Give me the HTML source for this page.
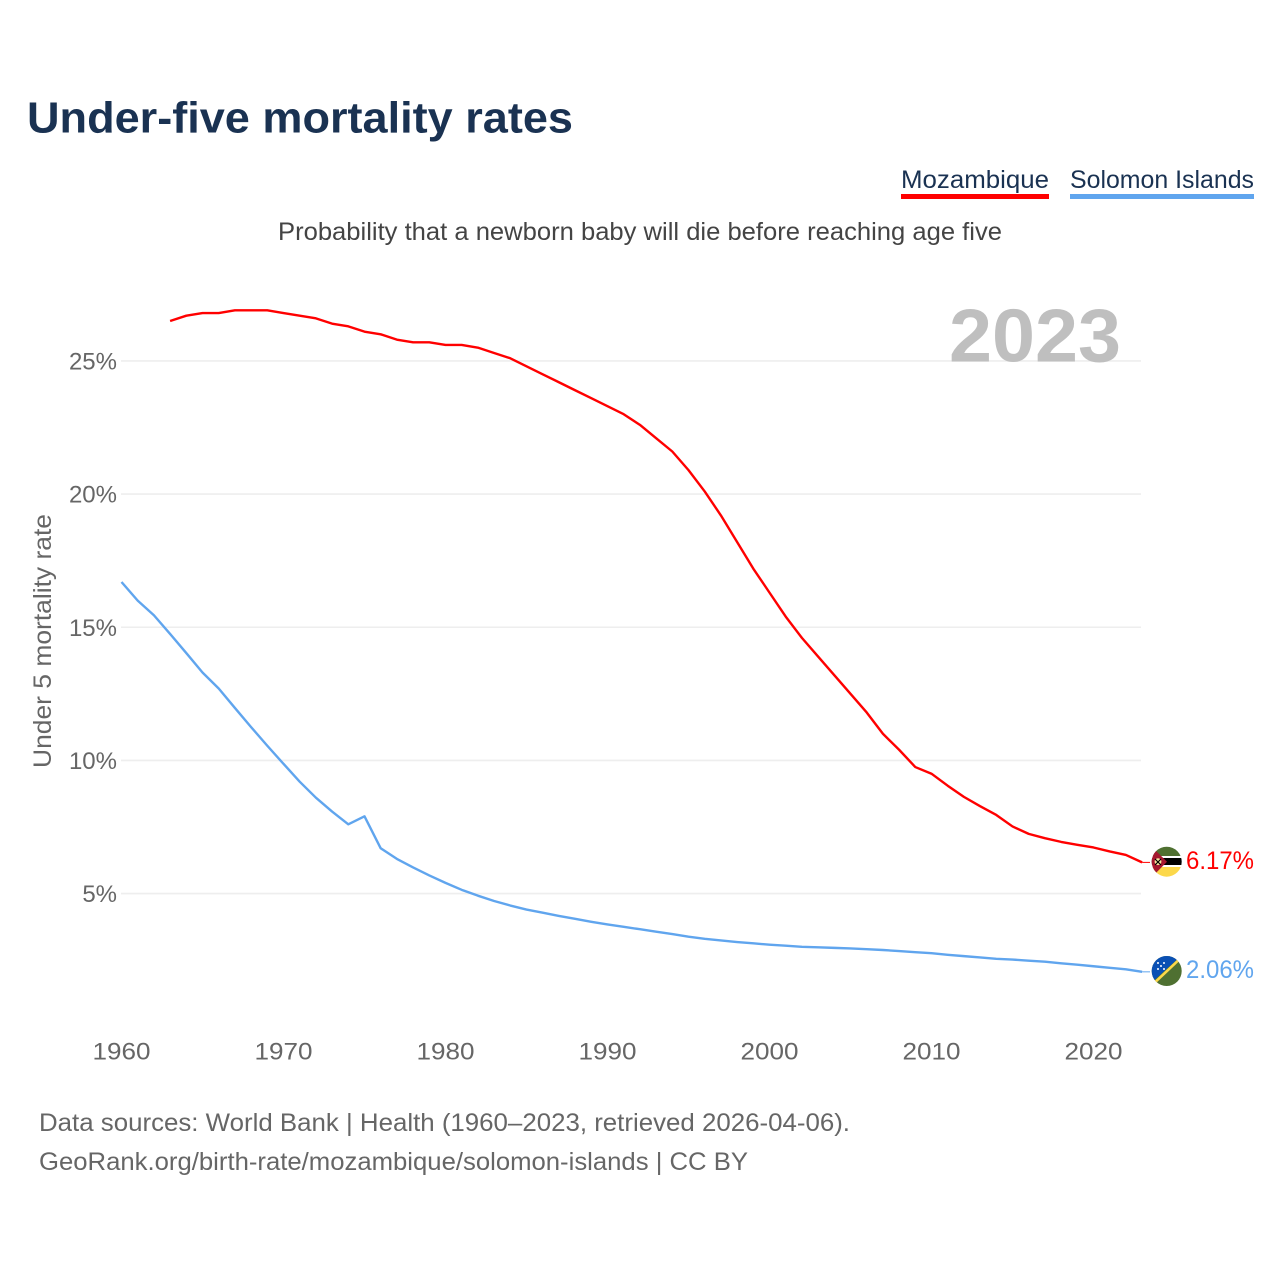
<!DOCTYPE html>
<html lang="en">
<head>
<meta charset="utf-8">
<title>Under-five mortality rates</title>
<style>
html,body{margin:0;padding:0;background:#fff}
svg{display:block}
text{font-family:"Liberation Sans",sans-serif}
</style>
</head>
<body>
<svg id="chart" xmlns="http://www.w3.org/2000/svg" width="1280" height="1280" viewBox="0 0 1280 1280">
  <defs>
    <clipPath id="clip-moz"><circle cx="1166.7" cy="861.7" r="15"/></clipPath>
    <clipPath id="clip-sol"><circle cx="1166.7" cy="971" r="15"/></clipPath>
  </defs>
  <rect width="1280" height="1280" fill="#fff"/>
  <text x="27" y="132.5" font-size="44" font-weight="700" fill="#1a3252" textLength="546" lengthAdjust="spacingAndGlyphs">Under-five mortality rates</text>

  <g>
    <g>
      <text x="901" y="188" font-size="25" fill="#1a3252" textLength="148" lengthAdjust="spacingAndGlyphs">Mozambique</text>
      <rect x="901" y="194" width="148" height="5" fill="#ff0000"/>
    </g>
    <g>
      <text x="1070" y="188" font-size="25" fill="#1a3252" textLength="184" lengthAdjust="spacingAndGlyphs">Solomon Islands</text>
      <rect x="1070" y="194" width="184" height="5" fill="#60a5ee"/>
    </g>
  </g>

  <text x="278" y="240" font-size="25" fill="#444444" textLength="724" lengthAdjust="spacingAndGlyphs">Probability that a newborn baby will die before reaching age five</text>

  <g id="grid"></g>
  <text x="949" y="361.5" font-size="75" font-weight="700" fill="#bfbfbf" textLength="172" lengthAdjust="spacingAndGlyphs">2023</text>
  <g id="y-ticks"></g>
  <g id="x-ticks"></g>
  <text transform="translate(51,768) rotate(-90)" x="0" y="0" font-size="25" fill="#666666" textLength="254" lengthAdjust="spacingAndGlyphs">Under 5 mortality rate</text>

  <g id="series"></g>

  <g clip-path="url(#clip-moz)">
    <rect x="1150" y="846" width="34" height="10" fill="#4f7031"/>
    <rect x="1150" y="856" width="34" height="2" fill="#ffffff"/>
    <rect x="1150" y="858" width="34" height="7" fill="#000000"/>
    <rect x="1150" y="865" width="34" height="2" fill="#ffffff"/>
    <rect x="1150" y="867" width="34" height="11" fill="#fcd84a"/>
    <polygon points="1151,846 1167,861.7 1151,878" fill="#a5182f"/>
    <circle cx="1158" cy="861.7" r="3.4" fill="#f4e7a0"/>
    <path d="M1155 859l6 6M1161 859l-6 6" stroke="#000" stroke-width="1.2"/>
  </g>
  <g clip-path="url(#clip-sol)">
    <rect x="1150" y="955" width="34" height="32" fill="#4f7031"/>
    <polygon points="1150,955 1182,955 1150,984" fill="#0a50b4"/>
    <line x1="1150" y1="987" x2="1184" y2="955" stroke="#fcd84a" stroke-width="2.6"/>
    <g fill="#ffffff">
      <circle cx="1158" cy="963" r="1"/><circle cx="1164" cy="963" r="1"/><circle cx="1161" cy="966" r="1"/><circle cx="1158" cy="969" r="1"/><circle cx="1164" cy="969" r="1"/>
    </g>
  </g>

  <text x="1186" y="869" font-size="25" fill="#ff0000" textLength="68" lengthAdjust="spacingAndGlyphs">6.17%</text>
  <text x="1186" y="978" font-size="25" fill="#60a5ee" textLength="68" lengthAdjust="spacingAndGlyphs">2.06%</text>

  <text x="39" y="1131" font-size="25" fill="#666666" textLength="811" lengthAdjust="spacingAndGlyphs">Data sources: World Bank | Health (1960–2023, retrieved 2026-04-06).</text>
  <text x="39" y="1170" font-size="25" fill="#666666" textLength="709" lengthAdjust="spacingAndGlyphs">GeoRank.org/birth-rate/mozambique/solomon-islands | CC BY</text>
</svg>
<script>
const years = [1960,1961,1962,1963,1964,1965,1966,1967,1968,1969,1970,1971,1972,1973,1974,1975,1976,1977,1978,1979,1980,1981,1982,1983,1984,1985,1986,1987,1988,1989,1990,1991,1992,1993,1994,1995,1996,1997,1998,1999,2000,2001,2002,2003,2004,2005,2006,2007,2008,2009,2010,2011,2012,2013,2014,2015,2016,2017,2018,2019,2020,2021,2022,2023];
const mozambique = [null,null,null,26.5,26.7,26.8,26.8,26.9,26.9,26.9,26.8,26.7,26.6,26.4,26.3,26.1,26.0,25.8,25.7,25.7,25.6,25.6,25.5,25.3,25.1,24.8,24.5,24.2,23.9,23.6,23.3,23.0,22.6,22.1,21.6,20.9,20.1,19.2,18.2,17.2,16.3,15.4,14.6,13.9,13.2,12.5,11.8,11.0,10.4,9.75,9.5,9.05,8.63,8.28,7.95,7.52,7.24,7.08,6.94,6.83,6.73,6.58,6.45,6.17];
const solomonIslands = [16.7,16.0,15.45,14.75,14.03,13.3,12.7,11.97,11.25,10.55,9.87,9.2,8.6,8.08,7.6,7.9,6.7,6.3,5.98,5.68,5.4,5.14,4.92,4.72,4.55,4.4,4.28,4.16,4.05,3.94,3.84,3.75,3.66,3.57,3.48,3.38,3.3,3.24,3.18,3.13,3.08,3.04,3.0,2.98,2.96,2.94,2.91,2.88,2.84,2.8,2.76,2.7,2.65,2.6,2.55,2.52,2.48,2.44,2.38,2.33,2.27,2.21,2.155,2.06];
const yTickValues = [25,20,15,10,5];
const yTickLabels = ['25%','20%','15%','10%','5%'];
const xTickValues = [1960,1970,1980,1990,2000,2010,2020];
const xTickLabels = ['1960','1970','1980','1990','2000','2010','2020'];

const NS = 'http://www.w3.org/2000/svg';
function xScale(year) { return 121.5 + (year - 1960) * 16.2; }
function yScale(value) { return 1026.7 - value * 26.63; }

function make(tag, attrs, parent) {
  const el = document.createElementNS(NS, tag);
  for (const key in attrs) el.setAttribute(key, attrs[key]);
  parent.appendChild(el);
  return el;
}

const gridGroup = document.getElementById('grid');
const yGroup = document.getElementById('y-ticks');
const xGroup = document.getElementById('x-ticks');
const seriesGroup = document.getElementById('series');

yTickValues.forEach(function (v, i) {
  const line = make('line', {x1: 121, x2: 1141, y1: yScale(v), y2: yScale(v), stroke: '#eeeeee', 'stroke-width': 1.6}, gridGroup);
  
  
  const label = make('text', {x: 117, y: yScale(v) + 8.5, 'font-size': 24, fill: '#666666', 'text-anchor': 'end'}, yGroup);
  
  
  label.textContent = yTickLabels[i];
});

xTickValues.forEach(function (v, i) {
  const label = make('text', {x: xScale(v), y: 1059.5, 'font-size': 24, fill: '#666666', 'text-anchor': 'middle', textLength: 58, lengthAdjust: 'spacingAndGlyphs'}, xGroup);
  
  
  label.textContent = xTickLabels[i];
});

function linePath(values) {
  const parts = [];
  values.forEach(function (v, i) {
    if (v === null) return;
    parts.push((parts.length ? 'L' : 'M') + xScale(years[i]).toFixed(2) + ' ' + yScale(v).toFixed(2));
  });
  return parts.join(' ');
}

const lastIndex = years.length - 1;

const mozLine = make('path', {d: linePath(mozambique), fill: 'none', stroke: '#ff0000', 'stroke-width': 2.4, 'stroke-linejoin': 'round'}, seriesGroup);



const solLine = make('path', {d: linePath(solomonIslands), fill: 'none', stroke: '#60a5ee', 'stroke-width': 2.4, 'stroke-linejoin': 'round'}, seriesGroup);



const mozLeader = make('line', {x1: xScale(years[lastIndex]), x2: 1150, y1: yScale(mozambique[lastIndex]), y2: yScale(mozambique[lastIndex]), stroke: '#ff0000', 'stroke-width': 1}, seriesGroup);



const solLeader = make('line', {x1: xScale(years[lastIndex]), x2: 1150, y1: yScale(solomonIslands[lastIndex]), y2: yScale(solomonIslands[lastIndex]), stroke: '#60a5ee', 'stroke-width': 1}, seriesGroup);


</script>
</body>
</html>
